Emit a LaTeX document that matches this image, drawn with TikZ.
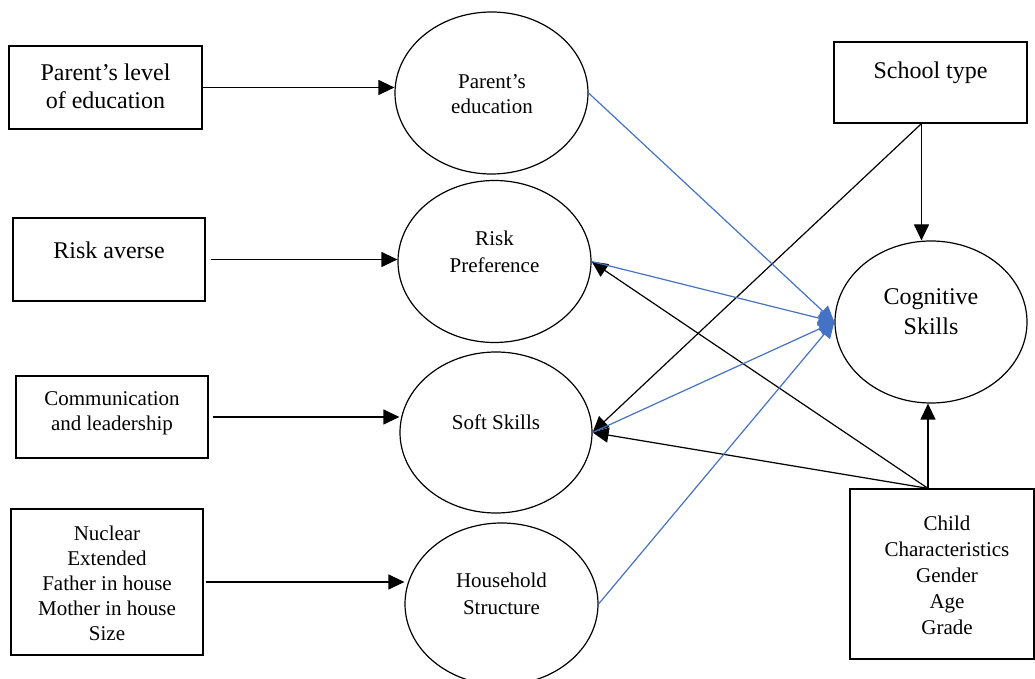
\documentclass[tikz,border=0pt]{standalone}
\usepackage{fontspec}
\setmainfont{Liberation Serif}
\usetikzlibrary{arrows.meta,shapes.geometric}
\definecolor{lineblue}{HTML}{4472C4}
\begin{document}
\begin{tikzpicture}[x=0.5pt,y=-0.5pt,
  box/.style={draw,line width=0.6pt,rectangle,inner sep=0pt},
  ell/.style={draw,line width=0.6pt,ellipse,inner sep=0pt,minimum width=96.5pt,minimum height=81pt},
  txt/.style={inner sep=0pt,align=center},
  big/.style={txt,font=\fontsize{12}{14}\selectfont},
  small/.style={txt,font=\fontsize{10.5}{12.5}\selectfont},
  arr/.style={line width=0.6pt,-{Triangle[length=8pt,width=7.5pt]}},
  barr/.style={arr,color=lineblue}
]
\useasboundingbox (0,0) rectangle (1035,679);

% left boxes
\node[box,minimum width=96.5pt,minimum height=41.5pt] (b1) at (105.5,87.5) {};
\node[big] (b1t) at (105.5,86.5) {Parent’s level\\of education};
\node[box,minimum width=96pt,minimum height=41.5pt] (b2) at (109,259.5) {};
\node[big] (b2t) at (109,250) {Risk averse};
\node[box,minimum width=96pt,minimum height=41pt] (b3) at (112,417) {};
\node[small] (b3t) at (112,413) {Communication\\and leadership};
\node[box,minimum width=96pt,minimum height=73pt] (b4) at (107,582) {};
\node[small] (b4t) at (107,583) {Nuclear\\Extended\\Father in house\\Mother in house\\Size};

% ellipses
\node[ell] (e1) at (491.5,93) {};
\node[small] (e1t) at (492,94.5) {Parent’s\\education};
\node[ell] (e2) at (494.5,261.5) {};
\node[small,font=\fontsize{10.5}{13.5}\selectfont] (e2t) at (494.5,251.5) {Risk\\Preference};
\node[ell,minimum width=96pt,minimum height=80.5pt] (e3) at (496,432.5) {};
\node[small] (e3t) at (496,422) {Soft Skills};
\node[ell] (e4) at (501.5,604) {};
\node[small,font=\fontsize{10.5}{13.5}\selectfont] (e4t) at (501.5,593.5) {Household\\Structure};

% right side
\node[box,minimum width=96.5pt,minimum height=40.5pt] (s) at (930.5,82.5) {};
\node[big] (st) at (930.5,73) {School type};
\node[ell,minimum width=96pt,minimum height=81pt] (cog) at (931,322) {};
\node[big,font=\fontsize{12}{15}\selectfont] (cogt) at (931,312) {Cognitive\\Skills};
\node[box,minimum width=92pt,minimum height=85pt] (c) at (942,574) {};
\node[small,font=\fontsize{10.5}{13}\selectfont] (ct) at (947,575.5) {Child\\Characteristics\\Gender\\Age\\Grade};

\coordinate (sp) at ([xshift=-4.5pt]s.south);
\coordinate (cp) at ([xshift=-7pt]c.north);

% left arrows
\draw[arr] (b1.east) -- (e1.west |- b1.east);
\draw[arr,shorten <=2.5pt] (b2.east) -- (e2.west |- b2.east);
\draw[arr,shorten <=2pt] (b3.east) -- (e3.west |- b3.east);
\draw[arr,shorten <=1pt] (b4.east) -- (e4.west |- b4.east);

% black arrows on the right
\draw[arr] (sp) -- (sp |- cog.north);
\draw[arr] (sp) -- (e3.east);
\draw[arr] (cp) -- (cp |- cog.south);
\draw[arr] (cp) -- (e2.east);
\draw[arr] (cp) -- (e3.east);

% blue arrows
\draw[barr] (e1.east) -- (cog.west);
\draw[barr] (e2.east) -- (cog.west);
\draw[barr] (e3.east) -- (cog.west);
\draw[barr] (e4.east) -- (cog.west);
\end{tikzpicture}
\end{document}
